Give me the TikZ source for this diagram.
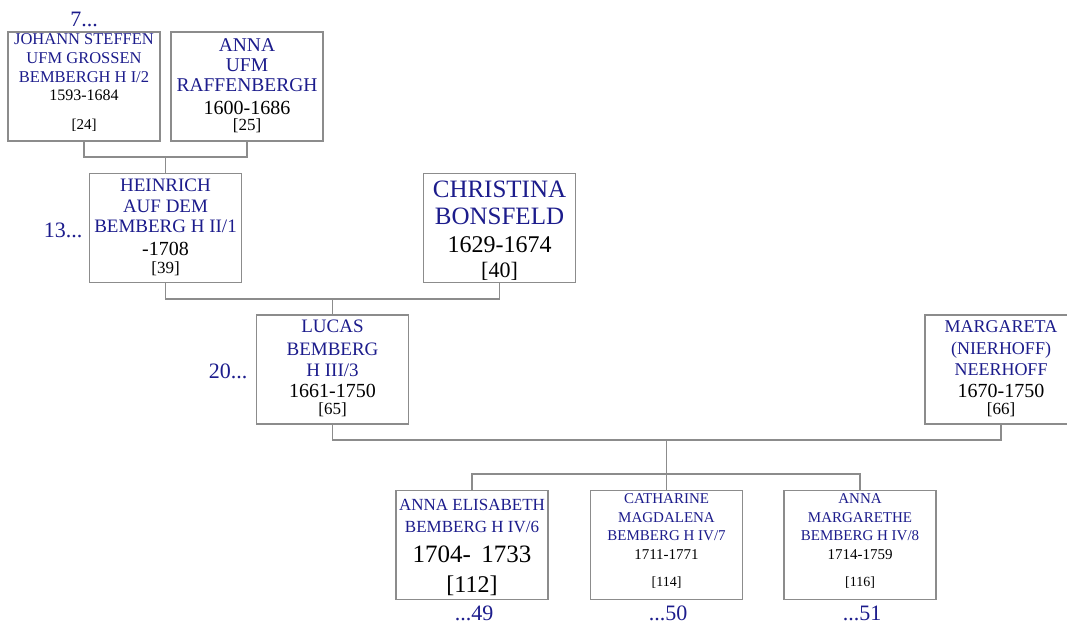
\documentclass[tikz,border=0pt]{standalone}
\usepackage{fontspec}
\setmainfont{Liberation Serif}
\definecolor{navy}{RGB}{28,28,140}
\definecolor{edge}{RGB}{140,140,140}
\begin{document}
\begin{tikzpicture}[x=1pt,y=-1pt,
  box/.style={draw=edge,line width=1.1pt,minimum width=152pt,minimum height=109pt,inner sep=0pt,fill=white},
  conn/.style={draw=edge,line width=1.1pt},
  nm/.style={text=navy,anchor=base,inner sep=0pt,font=\fontsize{#1}{#1}\selectfont},
  yr/.style={text=black,anchor=base,inner sep=0pt,font=\fontsize{#1}{#1}\selectfont},
  gen/.style={text=navy,anchor=base,inner sep=0pt,font=\fontsize{22}{22}\selectfont}]
\useasboundingbox (0,0) rectangle (1067,628);
\begin{scope}
\clip (0,0) rectangle (1067,628);
% boxes
\node[box] (johann) at (84,86.5) {};
\node[box] (anna) at (247,86.5) {};
\node[box] (heinrich) at (165.5,228) {};
\node[box] (christina) at (499.5,228) {};
\node[box] (lucas) at (332.5,369.5) {};
\node[box] (margareta) at (1001,369.5) {};
\node[box] (annael) at (472,545) {};
\node[box] (catharine) at (666.5,545) {};
\node[box] (annamarg) at (860,545) {};
% connectors
\coordinate (m1) at (165.5,157);
\draw[conn] (johann.south) |- (m1) -| (anna.south);
\draw[conn] (m1) -- (heinrich.north);
\coordinate (m2) at (332.5,299);
\draw[conn] (heinrich.south) |- (m2) -| (christina.south);
\draw[conn] (m2) -- (lucas.north);
\coordinate (m3) at (666.5,440);
\draw[conn] (lucas.south) |- (m3) -| (margareta.south);
\coordinate (m4) at (666.5,474);
\draw[conn] (m3) -- (m4) -- (catharine.north);
\draw[conn] (annael.north) |- (m4) -| (annamarg.north);
% Johann
\node[nm=16.5] (j1) at (84,45) {JOHANN STEFFEN};
\node[nm=16.5] (j2) at (84,64) {UFM GROSSEN};
\node[nm=16.5] (j3) at (84,83) {BEMBERGH H I/2};
\node[yr=16] (j4) at (84,101) {1593-1684};
\node[yr=15] (j5) at (84,130) {[24]};
% Anna
\node[nm=19.5] (a1) at (247,52) {ANNA};
\node[nm=19.5] (a2) at (247,72) {UFM};
\node[nm=19.5] (a3) at (247,92) {RAFFENBERGH};
\node[yr=20] (a4) at (247,115) {1600-1686};
\node[yr=17] (a5) at (247,131) {[25]};
% Heinrich
\node[nm=19] (h1) at (165.5,192) {HEINRICH};
\node[nm=19] (h2) at (165.5,213) {AUF DEM};
\node[nm=19] (h3) at (165.5,233) {BEMBERG H II/1};
\node[yr=20] (h4) at (165.5,255) {-1708};
\node[yr=17] (h5) at (165.5,273) {[39]};
% Christina
\node[nm=25] (c1) at (499.5,198) {CHRISTINA};
\node[nm=25] (c2) at (499.5,225) {BONSFELD};
\node[yr=24] (c3) at (499.5,252) {1629-1674};
\node[yr=22] (c4) at (499.5,277) {[40]};
% Lucas
\node[nm=19] (l1) at (332.5,332) {LUCAS};
\node[nm=19] (l2) at (332.5,355) {BEMBERG};
\node[nm=19] (l3) at (332.5,376) {H III/3};
\node[yr=20] (l4) at (332.5,397) {1661-1750};
\node[yr=17] (l5) at (332.5,414) {[65]};
% Margareta
\node[nm=18] (g1) at (1001,332) {MARGARETA};
\node[nm=18] (g2) at (1001,354) {(NIERHOFF)};
\node[nm=18] (g3) at (1001,375) {NEERHOFF};
\node[yr=20] (g4) at (1001,397) {1670-1750};
\node[yr=17] (g5) at (1001,414) {[66]};
% Anna Elisabeth
\node[nm=17] (e1) at (472,510) {ANNA ELISABETH};
\node[nm=17] (e2) at (472,532) {BEMBERG H IV/6};
\node[yr=25] (e3) at (472,562) {1704-\ \,1733};
\node[yr=24] (e4) at (472,592) {[112]};
% Catharine
\node[nm=15] (k1) at (666.5,503) {CATHARINE};
\node[nm=15] (k2) at (666.5,522) {MAGDALENA};
\node[nm=15] (k3) at (666.5,540) {BEMBERG H IV/7};
\node[yr=15] (k4) at (666.5,559) {1711-1771};
\node[yr=14] (k5) at (666.5,586) {[114]};
% Anna Margarethe
\node[nm=15] (n1) at (860,503) {ANNA};
\node[nm=15] (n2) at (860,522) {MARGARETHE};
\node[nm=15] (n3) at (860,540) {BEMBERG H IV/8};
\node[yr=15] (n4) at (860,559) {1714-1759};
\node[yr=14] (n5) at (860,586) {[116]};
% generation labels
\node[gen] (g7) at (84,27) {7...};
\node[gen] (g13) at (63,238) {13...};
\node[gen] (g20) at (228,378) {20...};
\node[gen] (g49) at (474,620) {...49};
\node[gen] (g50) at (668,620) {...50};
\node[gen] (g51) at (862,620) {...51};
\end{scope}
\end{tikzpicture}
\end{document}
